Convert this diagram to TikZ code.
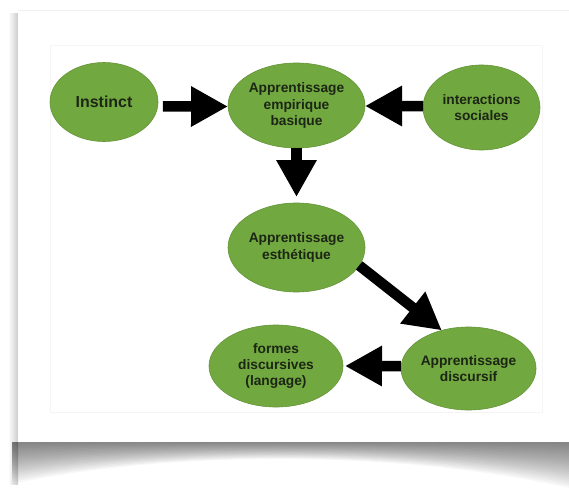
\documentclass[tikz,border=0pt]{standalone}
\usepackage{fontspec}
\setmainfont{Liberation Sans}
\usetikzlibrary{arrows.meta,shapes.geometric}
\definecolor{vert}{RGB}{114,168,64}
\definecolor{texte}{RGB}{28,38,20}

\begin{document}
\begin{tikzpicture}[x=1bp,y=-1bp,
    bulle/.style={ellipse, fill=vert, draw=vert!88!black, line width=0.6bp,
      inner sep=0pt, outer sep=0pt, align=center, text=texte,
      font=\bfseries\fontsize{13.8}{16.5}\selectfont},
    fleche/.style={line width=10.5bp, -{Triangle[length=37bp,width=38bp]}}]
  \useasboundingbox (0,0) rectangle (569,490);

  \shade[left color=white, right color=gray!40] (8,14) rectangle (18,484);
  \foreach \k in {1,...,20}
    \fill[black, opacity=0.032] (12,442) -- (569,442) -- (569,{442+46*\k/20})
      .. controls (400,{442+8*\k/20}) and (170,{442+8*\k/20}) .. (12,{442+42*\k/20}) -- cycle;
  \fill[white] (18,10) rectangle (569,442);
  \draw[gray!12] (18,10) -- (569,10);
  \draw[gray!8] (50,45) rectangle (542,412);

  \node[bulle, minimum width=108bp, minimum height=79bp,
    font=\bfseries\fontsize{16}{19}\selectfont] (instinct) at (104,102) {Instinct};
  \node[bulle, minimum width=137bp, minimum height=85bp] (empirique) at (296.5,105.5) {Apprentissage\\empirique\\basique};
  \node[bulle, minimum width=117bp, minimum height=85bp] (interactions) at (481.5,107.5) {interactions\\sociales};
  \node[bulle, minimum width=137bp, minimum height=89bp] (esthetique) at (296.5,247.5) {Apprentissage\\esth\'etique};
  \node[bulle, minimum width=133bp, minimum height=83bp] (discursif) at (468.5,368.5) {Apprentissage\\discursif};
  \node[bulle, minimum width=134bp, minimum height=82bp] (formes) at (276,366) {formes\\discursives\\(langage)};

  \draw[fleche, shorten <=5pt] ([yshift=-4.5pt]instinct.east) -- ([yshift=-1pt]empirique.west);
  \draw[fleche] ([yshift=1.5pt]interactions.west) -- ([yshift=-0.5pt]empirique.east);
  \draw[fleche] (empirique.south) -- ([yshift=6pt]esthetique.north);
  \draw[fleche] (esthetique.-16) -- (discursif.125);
  \draw[fleche, shorten >=2pt] ([yshift=2.5pt]discursif.west) -- (formes.east);
\end{tikzpicture}
\end{document}
